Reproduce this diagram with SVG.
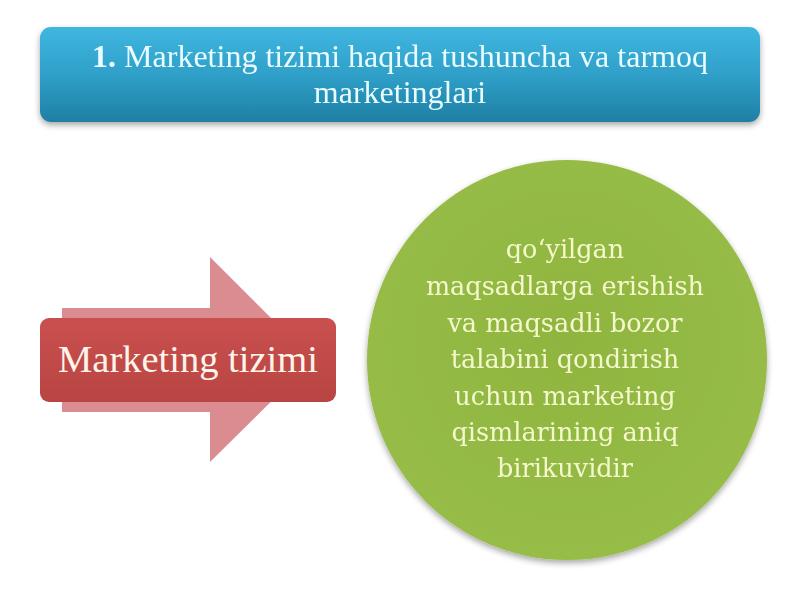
<svg xmlns="http://www.w3.org/2000/svg" width="800" height="600" viewBox="0 0 800 600">
<defs>
<linearGradient id="gBlue" x1="0" y1="0" x2="0" y2="1">
<stop offset="0" stop-color="#3fb6e0"/>
<stop offset="0.5" stop-color="#2fa0c9"/>
<stop offset="1" stop-color="#1f7fa3"/>
</linearGradient>
<linearGradient id="gRed" x1="0" y1="0" x2="0" y2="1">
<stop offset="0" stop-color="#c9504e"/>
<stop offset="1" stop-color="#b84543"/>
</linearGradient>
<radialGradient id="gGreen" cx="0.5" cy="0.45" r="0.55">
<stop offset="0" stop-color="#8fb540"/>
<stop offset="1" stop-color="#97bd48"/>
</radialGradient>
<filter id="sh" x="-10%" y="-10%" width="120%" height="130%">
<feGaussianBlur in="SourceAlpha" stdDeviation="3"/>
<feOffset dx="0" dy="3"/>
<feComponentTransfer><feFuncA type="linear" slope="0.35"/></feComponentTransfer>
<feMerge><feMergeNode/><feMergeNode in="SourceGraphic"/></feMerge>
</filter>
<style>
.t{font-family:"Liberation Serif","Times New Roman",serif;text-anchor:middle}
.title{font-size:32px;fill:#eafcff}
.red{font-size:38.5px;fill:#fff4ea}
.green{font-family:"DejaVu Serif","Liberation Serif",serif;font-size:25.5px;fill:#f4f8cc}
</style>
</defs>
<rect width="800" height="600" fill="#ffffff"/>
<g id="title" filter="url(#sh)">
<rect x="40" y="27" width="720" height="95" rx="11" fill="url(#gBlue)"/>
<text class="t title" x="400" y="67"><tspan font-weight="bold">1.</tspan> Marketing tizimi haqida tushuncha va tarmoq</text>
<text class="t title" x="400" y="103">marketinglari</text>
</g>
<g id="arrow">
<path d="M62,308 H210 V257 L313,360 L210,462 V412 H62 Z" fill="#d9868a" opacity="0.95"/>
</g>
<g id="marketing-tizimi">
<rect x="40" y="318" width="296" height="84" rx="9" fill="url(#gRed)"/>
<text class="t red" x="188" y="372">Marketing tizimi</text>
</g>
<g id="definition" filter="url(#sh)">
<circle cx="567" cy="360" r="200" fill="url(#gGreen)"/>
<text class="t green" x="565" y="258">qo‘yilgan</text>
<text class="t green" x="565" y="295">maqsadlarga erishish</text>
<text class="t green" x="565" y="332">va maqsadli bozor</text>
<text class="t green" x="565" y="368">talabini qondirish</text>
<text class="t green" x="565" y="405">uchun marketing</text>
<text class="t green" x="565" y="441">qismlarining aniq</text>
<text class="t green" x="565" y="477">birikuvidir</text>
</g>
<g id="connectors"/>
</svg>
